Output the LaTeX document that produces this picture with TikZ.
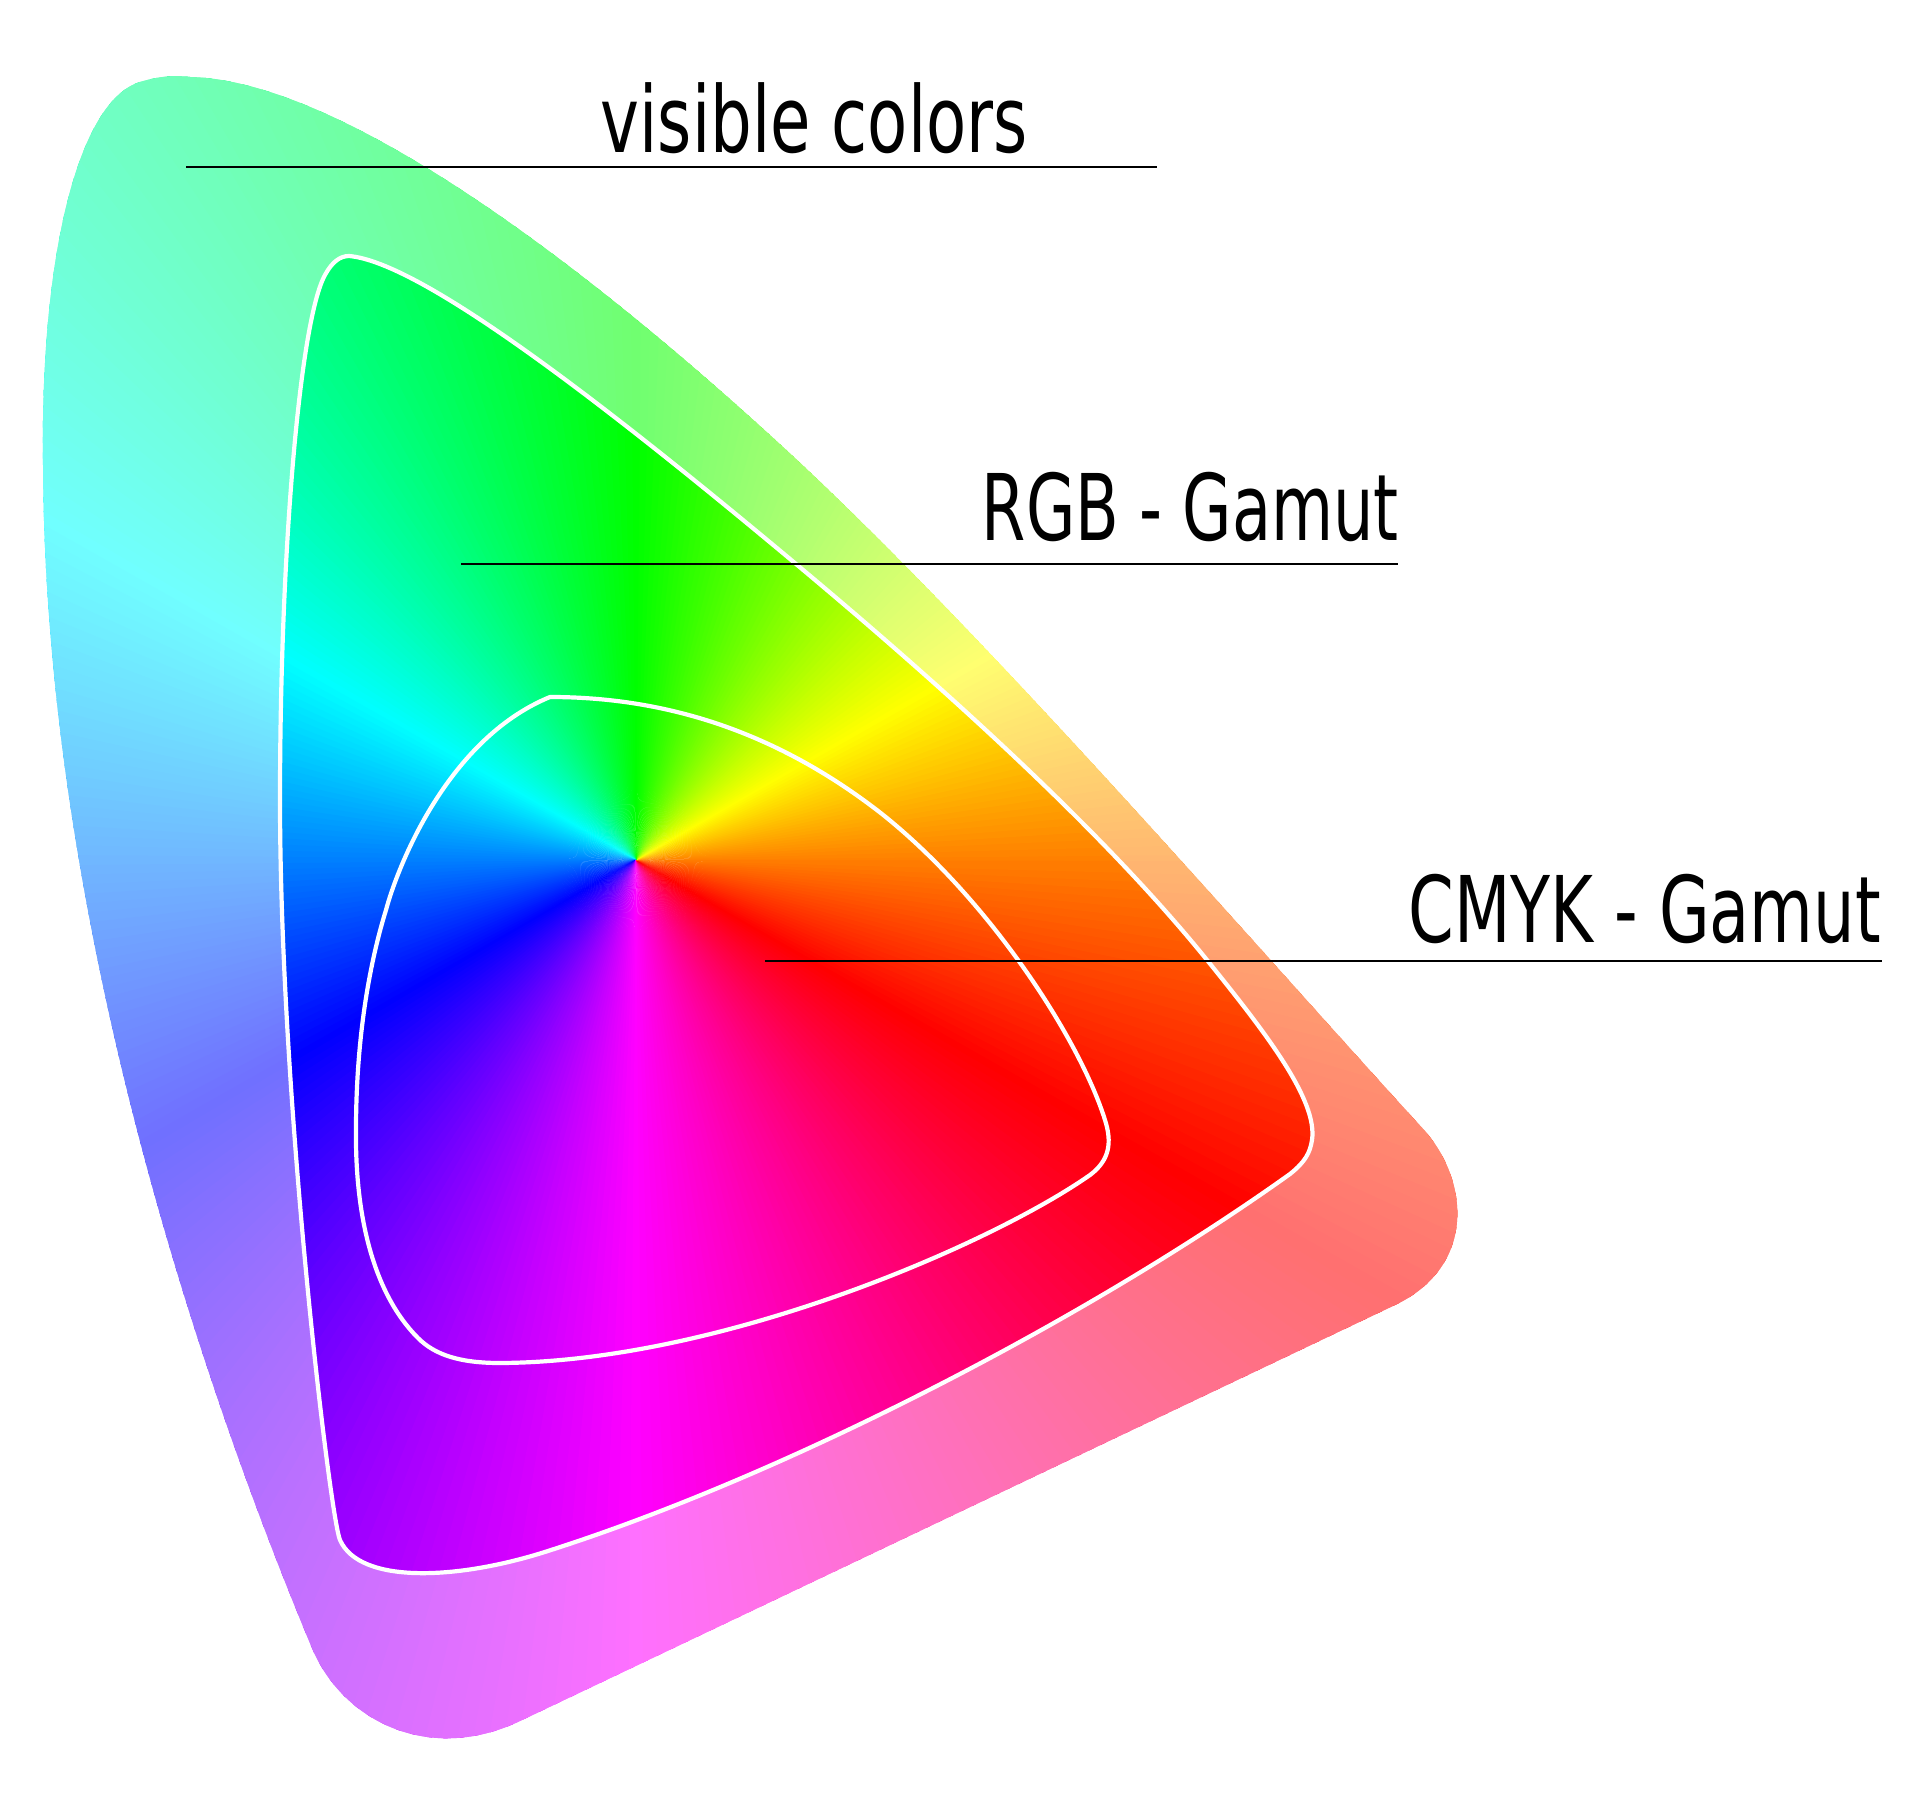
\documentclass[tikz,border=0pt]{standalone}
\usepackage{fontspec}
\setmainfont{DejaVu Sans}
\usepackage{graphicx}
\begin{document}
\begin{tikzpicture}[x=1pt,y=-1pt,
  leader/.style={black,line width=2.7pt},
  gamutline/.style={white,line width=4.2pt,line join=round},
  lbl/.style={anchor=base east,inner sep=0pt,font=\fontsize{92}{100}\selectfont}]
\useasboundingbox (0,0) rectangle (1920,1819);
\def\outerpath{(190,77) .. controls (330,80) and (560,240) .. (796,459)
 .. controls (1000,650) and (1250,940) .. (1425,1131)
 .. controls (1470,1183) and (1475,1267) .. (1395,1305)
 -- (520,1721)
 .. controls (430,1764) and (343,1722) .. (312,1648)
 .. controls (200,1380) and (45,920) .. (43,465)
 .. controls (40,250) and (80,100) .. (140,82)
 .. controls (160,76) and (175,75) .. (190,77) -- cycle}
\def\rgbpath{(349,256) .. controls (420,262) and (600,400) .. (796,564)
 .. controls (960,701) and (1110,840) .. (1207,960)
 .. controls (1265,1032) and (1318,1100) .. (1312,1140)
 .. controls (1310,1153) and (1305,1162) .. (1290,1174)
 .. controls (1100,1310) and (800,1470) .. (551,1550)
 .. controls (460,1580) and (360,1585) .. (340,1540)
 .. controls (330,1517) and (280,1100) .. (280,800)
 .. controls (280,550) and (300,320) .. (325,275)
 .. controls (332,262) and (340,256) .. (349,256) -- cycle}
\def\cmykpath{(550,697) .. controls (660,697) and (772,728) .. (882,814)
 .. controls (990,900) and (1080,1040) .. (1105,1120)
 .. controls (1112,1142) and (1110,1160) .. (1090,1175)
 .. controls (990,1245) and (720,1362) .. (500,1363)
 .. controls (460,1363) and (435,1355) .. (418,1338)
 .. controls (375,1295) and (355,1220) .. (356,1130)
 .. controls (356,1030) and (372,955) .. (386,910)
 .. controls (396,872) and (445,740) .. (550,697) -- cycle}
\coordinate (ctr) at (636,860);
\begin{scope}
\clip \outerpath;
\foreach \i in {0,...,359}{
  \pgfmathsetmacro\hh{mod(\i+30,360)}
  \definecolor{hc}{Hsb}{\hh,1,1}
  \fill[hc] (ctr) -- +(-\i+0.5:2300) -- +(-\i-0.9:2300) -- cycle;
}
\end{scope}
\fill[white,opacity=0.44,even odd rule] \outerpath \rgbpath;
\draw[gamutline] \rgbpath;
\draw[gamutline] \cmykpath;
\coordinate (v1) at (186,167); \coordinate (v2) at (1157,167);
\coordinate (r1) at (461,564); \coordinate (r2) at (1398,564);
\coordinate (c1) at (765,961); \coordinate (c2) at (1882,961);
\draw[leader] (v1) -- (v2);
\draw[leader] (r1) -- (r2);
\draw[leader] (c1) -- (c2);
\node[lbl] (tv) at (1028,153) {\resizebox{427pt}{\height}{visible colors}};
\node[lbl] (tr) at (1399,540) {\resizebox{417pt}{\height}{RGB - Gamut}};
\node[lbl] (tc) at (1881,942) {\resizebox{472pt}{\height}{CMYK - Gamut}};
\end{tikzpicture}
\end{document}
